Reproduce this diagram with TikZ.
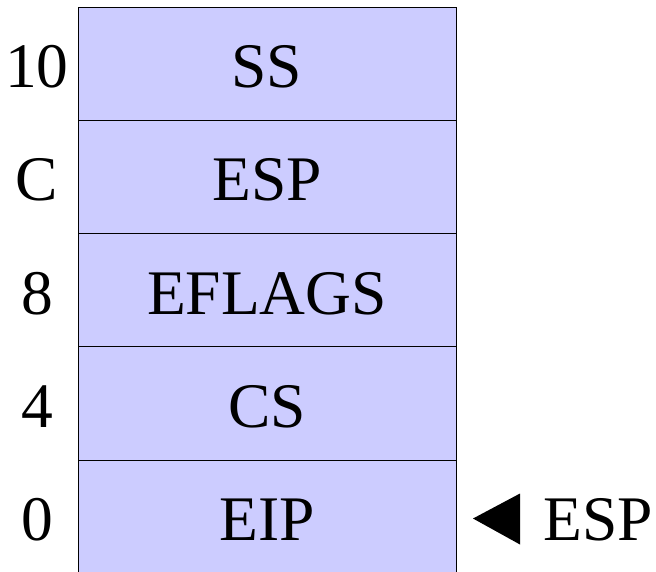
\documentclass[tikz,border=0pt]{standalone}
\usepackage{fontspec}
\setmainfont{Liberation Serif}
\definecolor{slotfill}{HTML}{CCCCFF}
\begin{document}
\begin{tikzpicture}[x=1pt,y=-1pt]
        \clip (0,0) rectangle (656,571);
        \begin{scope}[every node/.style={font=\fontsize{63.5}{76}\selectfont,text height=48pt,text depth=0pt,inner sep=0pt}]
            % Stack slots
            \begin{scope}[every node/.append style={draw,line width=0.75pt,fill=slotfill,minimum width=378pt,minimum height=113.3pt}]
                \node (ss) at (267, 63.6) {SS};
                \node (esp) at (267, 176.9) {ESP};
                \node (eflags) at (267, 290.2) {EFLAGS};
                \node (cs) at (267, 403.5) {CS};
                \node (eip) at (267, 516.8) {EIP};
            \end{scope}

            % Offsets
            \node (off10) at (37, 63.6) {10};
            \node (offC) at (37, 176.9) {C};
            \node (off8) at (37, 290.2) {8};
            \node (off4) at (37, 403.5) {4};
            \node (off0) at (37, 516.8) {0};

            % Stack pointer
            \node (espptr) at (598, 516.8) {ESP};
        \end{scope}

        \coordinate (tip) at (473, 518.5);
        \fill (tip) -- ++(47,-25) -- ++(0,51) -- cycle;
    \end{tikzpicture}
\end{document}
